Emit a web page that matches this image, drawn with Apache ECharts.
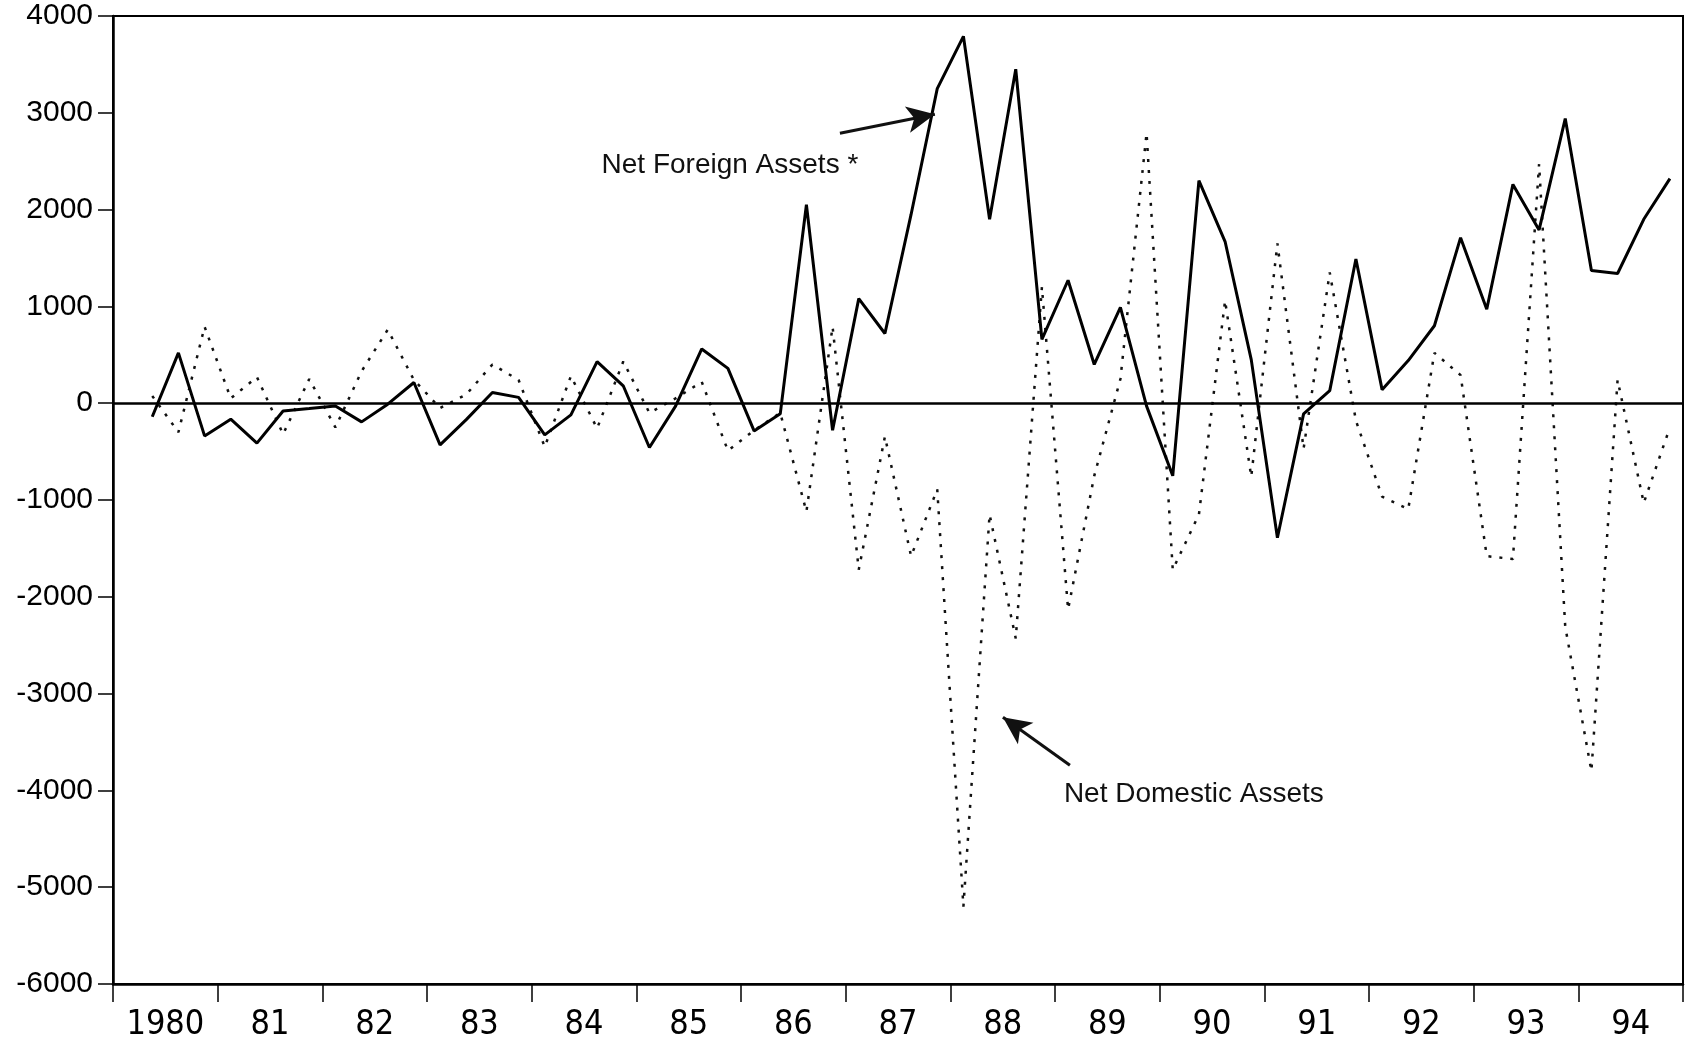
<!DOCTYPE html>
<html>
<head>
<meta charset="utf-8">
<script src="https://cdn.jsdelivr.net/npm/echarts@6/dist/echarts.min.js"></script>
<style>
  html, body { margin: 0; padding: 0; background: #fff; }
  #chart { width: 1685px; height: 1047px; }
</style>
</head>
<body>
<div id="chart"></div>
<script>
// year labels (one per 4 quarters), data runs 1980Q2 .. 1994Q4
var yearLabels = ['1980','81','82','83','84','85','86','87','88','89','90','91','92','93','94'];
var yTicks = [-6000,-5000,-4000,-3000,-2000,-1000,0,1000,2000,3000,4000];

// Net Foreign Assets * (solid)
var netForeign = [
  -140, 520, -338, -165,            // 1980 Q2-Q4, 81 Q1
  -413, -80, -55, -28,
  -193, -10, 214, -431,
  -170, 110, 60, -327,
  -120, 430, 180, -458,
  -30, 560, 360, -286,
  -110, 2050, -280, 1080,
  720, 1950, 3250, 3790,
  1900, 3450, 660, 1270,
  400, 990, -30, -750,
  2300, 1670, 450, -1390,
  -110, 130, 1490, 140,
  440, 800, 1710, 970,
  2260, 1790, 2940, 1370,
  1340, 1900, 2320
];

// Net Domestic Assets (dotted)
var netDomestic = [
  75, -300, 790, 50,
  270, -320, 250, -250,
  330, 760, 240, -50,
  90, 400, 240, -450,
  280, -260, 430, -100,
  50, 220, -490, -280,
  -100, -1120, 790, -1720,
  -345, -1580, -890, -5200,
  -1150, -2430, 1200, -2130,
  -750, 250, 2790, -1720,
  -1150, 1060, -760, 1650,
  -470, 1350, -180, -965,
  -1094, 520, 290, -1580,
  -1610, 2470, -2310, -3800,
  240, -1030, -250
];

var firstQuarter = 1; // 1980 Q2

function toPairs(arr) {
  return arr.map(function (v, k) { return [firstQuarter + k + 0.5, v]; });
}

var tickQuarters = [];
for (var q = 0; q <= yearLabels.length * 4; q += 4) tickQuarters.push(q);
var labelQuarters = yearLabels.map(function (y, i) { return i * 4 + 2; });

var chart = echarts.init(document.getElementById('chart'));

var option = {
  animation: false,
  backgroundColor: '#fff',
  grid: {
    left: 113, right: 2, top: 16, bottom: 63,
    show: true, borderColor: '#000', borderWidth: 2, backgroundColor: 'transparent'
  },
  xAxis: {
    type: 'value',
    min: 0,
    max: yearLabels.length * 4,
    axisLine: { show: true, onZero: false, lineStyle: { color: '#000', width: 2.5 } },
    axisTick: { show: true, inside: false, length: 18, customValues: tickQuarters,
                lineStyle: { color: '#000', width: 1.5 } },
    axisLabel: {
      customValues: labelQuarters,
      formatter: function (v) { return yearLabels[(v - 2) / 4]; },
      color: '#000',
      fontFamily: '"Liberation Sans Narrow", "DejaVu Sans Condensed", Arial, sans-serif',
      fontSize: 34,
      margin: 24
    },
    splitLine: { show: false }
  },
  yAxis: {
    type: 'value',
    min: yTicks[0],
    max: yTicks[yTicks.length - 1],
    interval: 1000,
    axisLine: { show: true, lineStyle: { color: '#000', width: 2.5 } },
    axisTick: { show: true, inside: false, length: 15, lineStyle: { color: '#000', width: 1.5 } },
    axisLabel: {
      color: '#000',
      fontFamily: '"Liberation Sans", Arial, sans-serif',
      fontSize: 30,
      margin: 20,
      formatter: function (v) { return String(v); }
    },
    splitLine: { show: false }
  },
  series: [
    {
      name: 'Net Foreign Assets *',
      type: 'line',
      data: toPairs(netForeign),
      showSymbol: false,
      lineStyle: { color: '#000', width: 3 },
      z: 3,
      markLine: {
        silent: true,
        symbol: ['none', 'none'],
        label: { show: false },
        lineStyle: { color: '#000', width: 2.5, type: 'solid' },
        data: [{ yAxis: 0 }]
      }
    },
    {
      name: 'Net Domestic Assets',
      type: 'line',
      data: toPairs(netDomestic),
      showSymbol: false,
      lineStyle: { color: '#111', width: 2.5, type: [3, 8] },
      z: 2
    },
    {
      // annotations: arrows and captions
      type: 'line',
      data: [],
      silent: true,
      markLine: {
        silent: true,
        symbol: ['none', 'arrow'],
        symbolSize: [20, 28],
        label: { show: false },
        lineStyle: { color: '#111', width: 3, type: 'solid' },
        data: [
          [{ coord: [27.78, 2789] }, { coord: [31.41, 2986] }],
          [{ coord: [36.57, -3740] }, { coord: [34.01, -3244] }]
        ]
      },
      markPoint: {
        silent: true,
        symbol: 'rect',
        symbolSize: 0,
        label: {
          show: true,
          position: 'right',
          distance: 0,
          color: '#111',
          fontFamily: '"Liberation Sans", Arial, sans-serif',
          fontSize: 28,
          formatter: function (p) { return p.name; }
        },
        data: [
          { name: 'Net Foreign Assets *', coord: [18.67, 2453] },
          { name: 'Net Domestic Assets', coord: [36.34, -4039] }
        ]
      }
    }
  ]
};

chart.setOption(option);
</script>
</body>
</html>
